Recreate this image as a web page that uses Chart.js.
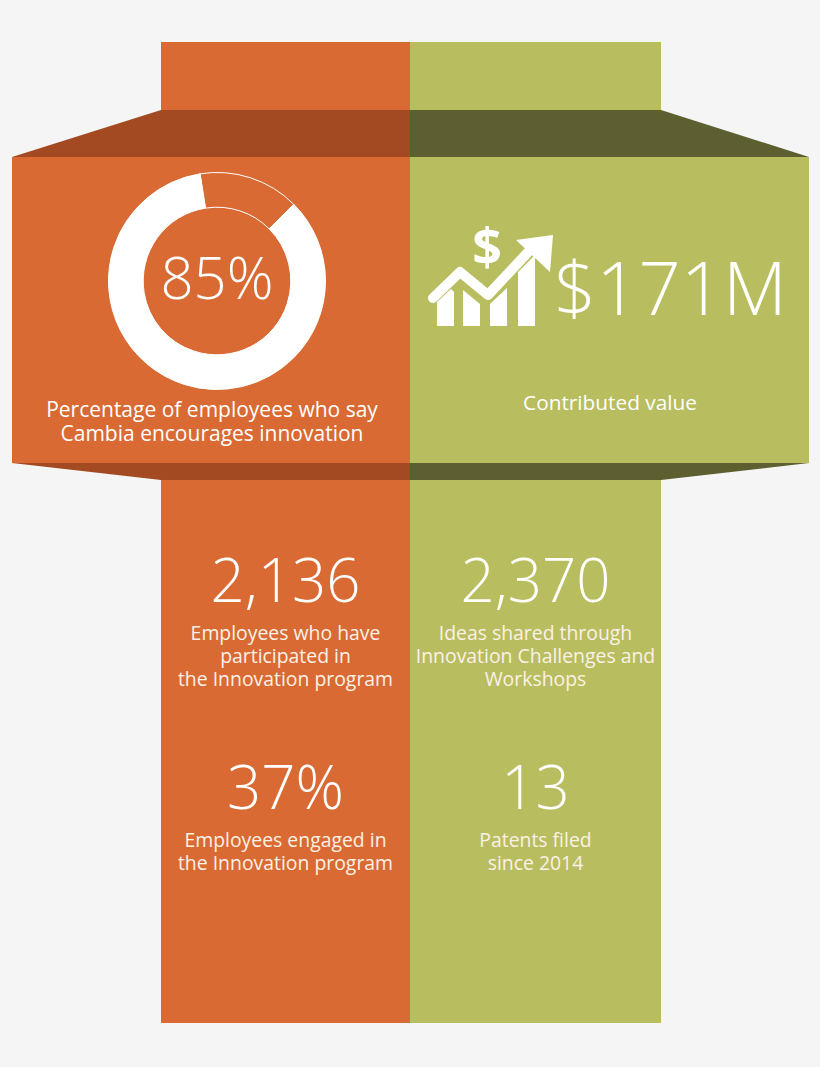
<!DOCTYPE html>
<html lang="en">
<head>
<meta charset="UTF-8">
<title>Cambia Innovation</title>
<script src="https://cdn.jsdelivr.net/npm/chart.js@4.4.0/dist/chart.umd.min.js"></script>
<style>
    html, body { margin: 0; padding: 0; background: #f5f5f5; }
    body { width: 820px; height: 1067px; position: relative; overflow: hidden; font-family: "Open Sans", sans-serif; color: #fff; }
    #bg { position: absolute; left: 0; top: 0; }
    .txt { position: absolute; text-align: center; white-space: nowrap; line-height: 1; }
    .big { font-weight: 300; }
    .lbl { font-size: 19.4px; line-height: 23px; color: #fbf1e6; white-space: pre-line; }
    #donut-wrap { position: absolute; left: 108px; top: 172px; width: 218px; height: 218px; }
</style>
</head>
<body>
<svg id="bg" width="820" height="1067" xmlns="http://www.w3.org/2000/svg">
    <rect x="161" y="42" width="249" height="68" fill="#d96a33"/>
    <rect x="410" y="42" width="251" height="68" fill="#b8be5f"/>
    <polygon points="161,110 410,110 410,157 12,157" fill="#a34a22"/>
    <polygon points="410,110 661,110 809,157 410,157" fill="#5d5f31"/>
    <rect x="12" y="157" width="398" height="306" fill="#d96a33"/>
    <rect x="410" y="157" width="399" height="306" fill="#b8be5f"/>
    <polygon points="12,463 410,463 410,480 161,480" fill="#a34a22"/>
    <polygon points="410,463 809,463 661,480 410,480" fill="#5d5f31"/>
    <rect x="161" y="480" width="249" height="543" fill="#d96a33"/>
    <rect x="410" y="480" width="251" height="543" fill="#b8be5f"/>
    <!-- growth icon -->
    <g fill="#fff" stroke="none">
        <path d="M437,326 L437,302 L451,289 L454,292 L454,326 Z"/>
        <path d="M463,326 L463,290 L480,304 L480,326 Z"/>
        <path d="M490,326 L490,304 L507,288 L507,326 Z"/>
        <path d="M518,326 L518,272 L535,255 L535,326 Z"/>
    </g>
    <polyline points="433,298 460,272 488,295 532,248" fill="none" stroke="#fff" stroke-width="10" stroke-linecap="round" stroke-linejoin="round"/>
    <polygon points="516,240 553,235 550,272" fill="#fff"/>
    <text x="487" y="266" font-family="Open Sans" font-weight="700" font-size="52" fill="#fff" text-anchor="middle">$</text>
</svg>

<div id="donut-wrap"><canvas id="donut" width="218" height="218"></canvas></div>

<div class="txt big" style="left:117px; top:248px; width:200px; font-size:58px;">85%</div>
<div class="txt" style="left:12px; top:397px; width:400px; font-size:21px; line-height:24px; white-space:pre-line;">Percentage of employees who say
Cambia encourages innovation</div>

<div class="txt big" style="left:554px; top:250px; width:260px; font-size:74px; text-align:left;">$171M</div>
<div class="txt" style="left:410px; top:392px; width:400px; font-size:20.8px;">Contributed value</div>

<div id="stats"></div>

<script>
    // doughnut: share of employees who say Cambia encourages innovation
    const donutLabels = ['Other', 'Encourages innovation'];
    const donutValues = [15, 85];

    // stat blocks below the donut
    const statValues = ['2,136', '2,370', '37%', '13'];
    const statLabels = [
        ['Employees who have', 'participated in', 'the Innovation program'],
        ['Ideas shared through', 'Innovation Challenges and', 'Workshops'],
        ['Employees engaged in', 'the Innovation program'],
        ['Patents filed', 'since 2014']
    ];

    const ORANGE = '#d96a33';

    new Chart(document.getElementById('donut'), {
        type: 'doughnut',
        data: {
            labels: donutLabels,
            datasets: [{
                data: donutValues,
                backgroundColor: [ORANGE, '#ffffff'],
                borderColor: '#ffffff',
                borderWidth: 1,
                hoverOffset: 0
            }]
        },
        options: {
            responsive: false,
            animation: false,
            rotation: -9,
            cutout: '68%',
            events: [],
            plugins: { legend: { display: false }, tooltip: { enabled: false } }
        }
    });

    // lay the stat text out in the two lower columns
    const cols = [{ x: 161, w: 249 }, { x: 410, w: 251 }];
    const rows = [{ num: 549, lbl: 621, size: 60 }, { num: 756, lbl: 828, size: 60 }];
    const stats = document.getElementById('stats');
    statValues.forEach((v, i) => {
        const c = cols[i % 2], r = rows[Math.floor(i / 2)];
        const n = document.createElement('div');
        n.className = 'txt big';
        n.style.cssText = `left:${c.x}px; top:${r.num}px; width:${c.w}px; font-size:${r.size}px;`;
        n.textContent = v;
        stats.appendChild(n);
        const l = document.createElement('div');
        l.className = 'txt lbl';
        l.style.cssText = `left:${c.x}px; top:${r.lbl}px; width:${c.w}px;`;
        l.textContent = statLabels[i].join('\n');
        stats.appendChild(l);
    });
</script>
</body>
</html>
